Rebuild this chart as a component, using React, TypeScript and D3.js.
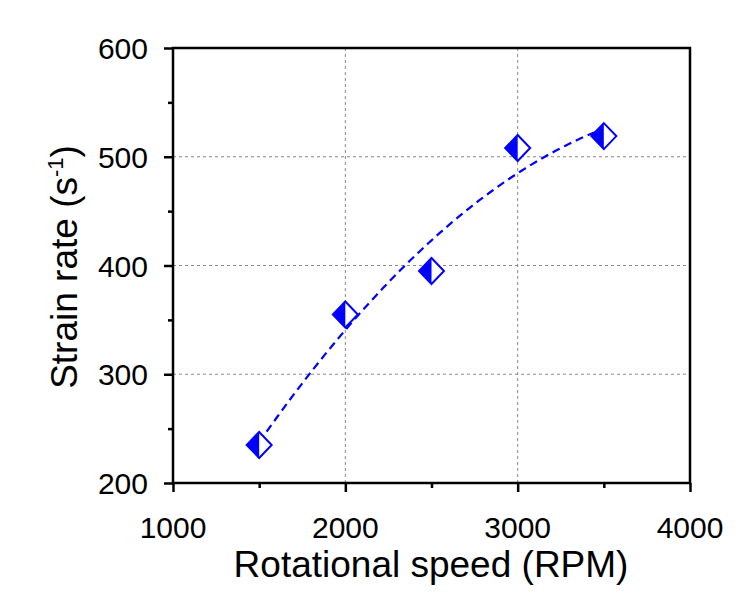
import React, { useEffect, useRef } from "react";
import * as d3 from "d3";

// measured points
const rpm = [1500, 2000, 2500, 3000, 3500];
const strainRate = [235, 355, 395, 508, 519];
const xTicks = [1000, 2000, 3000, 4000];
const yTicks = [200, 300, 400, 500, 600];

// least squares quadratic through the points
function quadFit(xs: number[], ys: number[]) {
  const n = xs.length;
  let sx = 0, sx2 = 0, sx3 = 0, sx4 = 0, sy = 0, sxy = 0, sx2y = 0;
  for (let i = 0; i < n; i++) {
    const x = xs[i] / 1000, y = ys[i];
    sx += x; sx2 += x * x; sx3 += x ** 3; sx4 += x ** 4;
    sy += y; sxy += x * y; sx2y += x * x * y;
  }
  const m = [
    [n, sx, sx2, sy],
    [sx, sx2, sx3, sxy],
    [sx2, sx3, sx4, sx2y],
  ];
  for (let c = 0; c < 3; c++) {
    for (let r = c + 1; r < 3; r++) {
      const f = m[r][c] / m[c][c];
      for (let k = c; k < 4; k++) m[r][k] -= f * m[c][k];
    }
  }
  const co = [0, 0, 0];
  for (let r = 2; r >= 0; r--) {
    let s = m[r][3];
    for (let k = r + 1; k < 3; k++) s -= m[r][k] * co[k];
    co[r] = s / m[r][r];
  }
  return (x: number) => co[0] + co[1] * (x / 1000) + co[2] * (x / 1000) ** 2;
}

export default function App() {
  const ref = useRef<SVGSVGElement>(null);

  useEffect(() => {
    const svg = d3.select(ref.current);
    svg.selectAll("*").remove();
    const left = 173, right = 690, top = 48, bottom = 483;
    const x = d3.scaleLinear().domain([1000, 4000]).range([left, right]);
    const y = d3.scaleLinear().domain([200, 600]).range([bottom, top]);
    const font = "'Liberation Sans', Arial, sans-serif";
    const blue = "#0000ff";

    // grid
    const grid = svg.append("g").attr("stroke", "#8a8a8a").attr("stroke-width", 1).attr("stroke-dasharray", "3,3");
    grid.selectAll(".gx").data(xTicks.slice(1, -1)).enter().append("line")
      .attr("x1", (d) => x(d)).attr("x2", (d) => x(d)).attr("y1", top).attr("y2", bottom);
    grid.selectAll(".gy").data(yTicks.slice(1, -1)).enter().append("line")
      .attr("y1", (d) => y(d)).attr("y2", (d) => y(d)).attr("x1", left).attr("x2", right);

    // fit line
    const f = quadFit(rpm, strainRate);
    const pts = d3.range(rpm[0], rpm[rpm.length - 1] + 1, 20);
    const line = d3.line<number>().x((d) => x(d)).y((d) => y(f(d)));
    svg.append("path").attr("d", line(pts)).attr("fill", "none").attr("stroke", blue)
      .attr("stroke-width", 2.2).attr("stroke-dasharray", "8,5");

    // frame
    svg.append("rect").attr("x", left).attr("y", top).attr("width", right - left).attr("height", bottom - top)
      .attr("fill", "none").attr("stroke", "#000").attr("stroke-width", 2.5);

    // axes
    const xAxis = d3.axisBottom(x).tickValues(d3.range(1000, 4001, 500)).tickSize(0).tickFormat(() => "");
    const gx = svg.append("g").attr("transform", `translate(0,${bottom})`).call(xAxis);
    gx.select(".domain").remove();
    gx.selectAll(".tick line").attr("stroke", "#000").attr("stroke-width", 2.5)
      .attr("y2", (d: any) => (d % 1000 === 0 ? 9 : 5));
    svg.append("g").selectAll("text").data(xTicks).enter().append("text")
      .attr("x", (d) => x(d)).attr("y", 538).attr("text-anchor", "middle")
      .attr("font-family", font).attr("font-size", 30).text((d) => d);

    const yAxis = d3.axisLeft(y).tickValues(d3.range(200, 601, 50)).tickSize(0).tickFormat(() => "");
    const gy = svg.append("g").attr("transform", `translate(${left},0)`).call(yAxis);
    gy.select(".domain").remove();
    gy.selectAll(".tick line").attr("stroke", "#000").attr("stroke-width", 2.5)
      .attr("x2", (d: any) => (d % 100 === 0 ? -9 : -5));
    svg.append("g").selectAll("text").data(yTicks).enter().append("text")
      .attr("x", 148).attr("y", (d) => y(d) + 11).attr("text-anchor", "end")
      .attr("font-family", font).attr("font-size", 30).text((d) => d);

    // titles
    svg.append("text").attr("x", 431).attr("y", 577).attr("text-anchor", "middle")
      .attr("font-family", font).attr("font-size", 37).text("Rotational speed (RPM)");
    const yt = svg.append("text").attr("transform", `translate(77,267) rotate(-90)`)
      .attr("text-anchor", "middle").attr("font-family", font).attr("font-size", 37);
    yt.append("tspan").text("Strain rate (s");
    yt.append("tspan").attr("font-size", 22).attr("dy", -14).text("-1");
    yt.append("tspan").attr("dy", 14).text(")");

    // markers: half-filled diamonds
    const h = 13, w = 12.5;
    const mk = svg.append("g").selectAll("g").data(rpm.map((r, i) => [r, strainRate[i]])).enter().append("g")
      .attr("transform", (d) => `translate(${x(d[0])},${y(d[1])})`);
    mk.append("path").attr("d", `M0,${-h}L${w},0L0,${h}L${-w},0Z`).attr("fill", "#fff");
    mk.append("path").attr("d", `M0,${-h}L0,${h}L${-w},0Z`).attr("fill", blue);
    mk.append("path").attr("d", `M0,${-h}L${w},0L0,${h}L${-w},0Z`).attr("fill", "none")
      .attr("stroke", blue).attr("stroke-width", 2);
  }, []);

  return (
    <div>
      <svg ref={ref} width={750} height={597} style={{ position: "absolute", left: 0, top: 0 }}></svg>
    </div>
  );
}
